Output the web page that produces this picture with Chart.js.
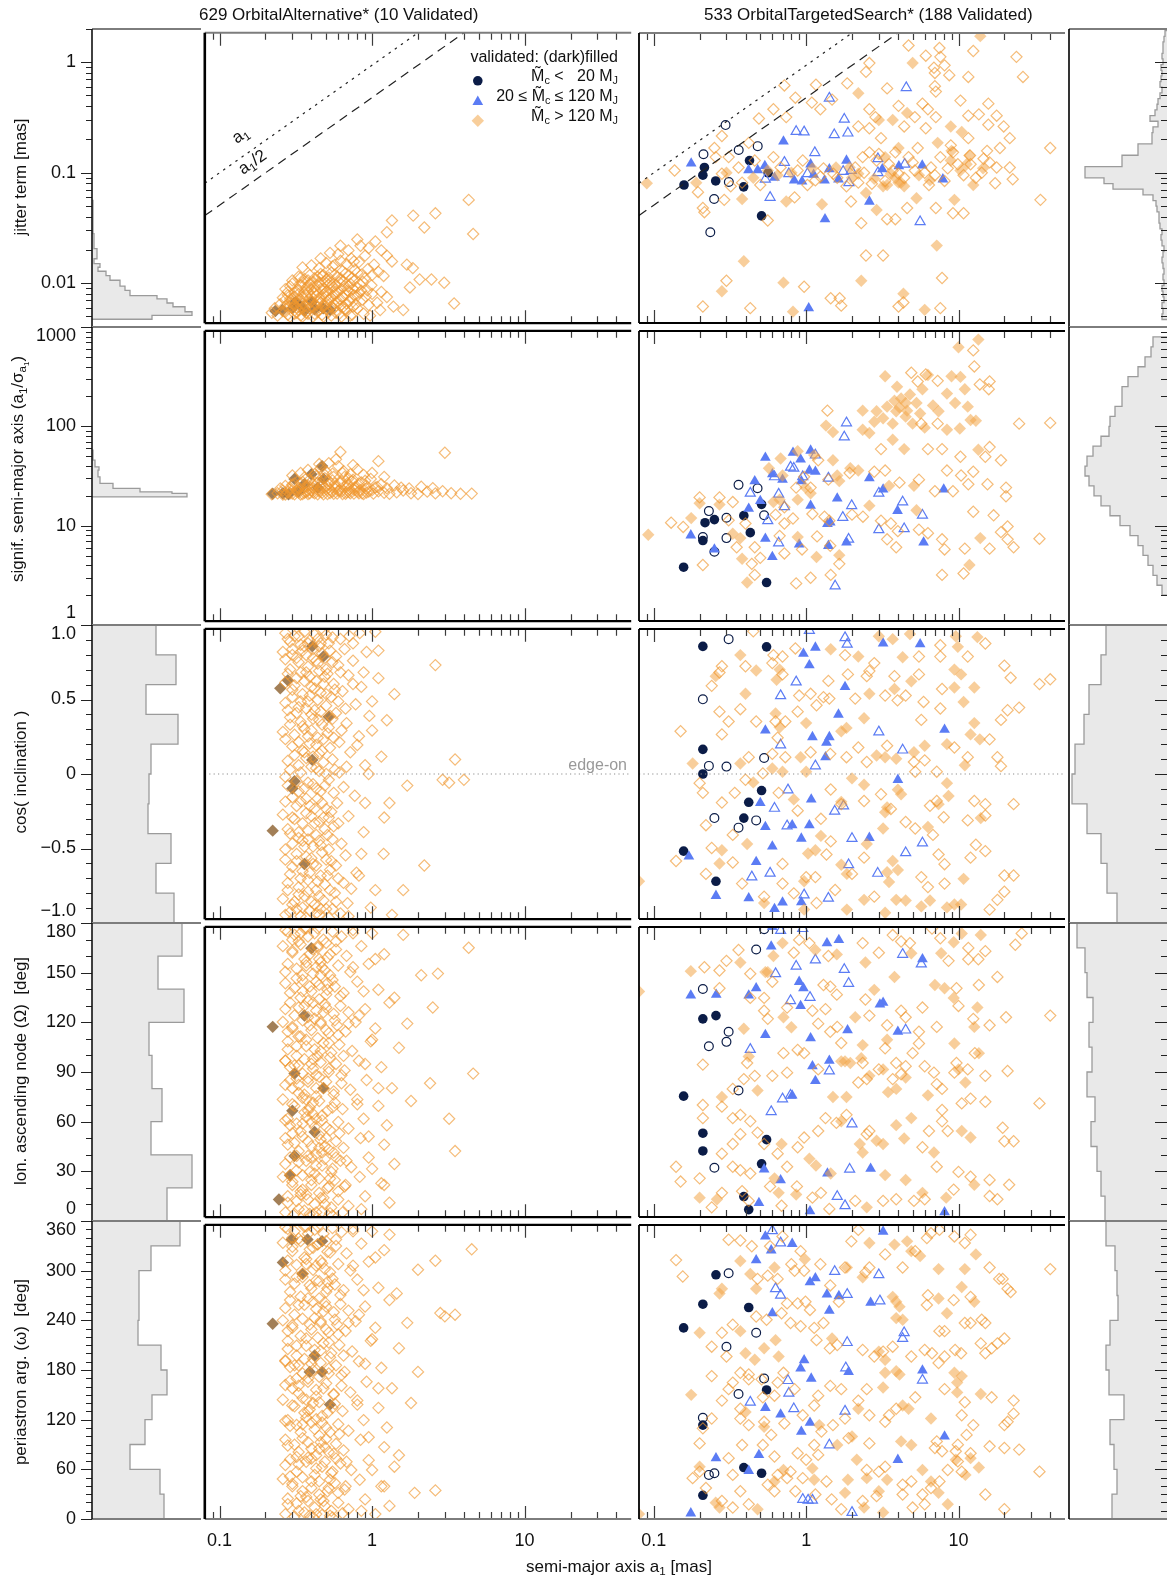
<!DOCTYPE html>
<html>
<head>
<meta charset="utf-8">
<script src="https://cdn.jsdelivr.net/npm/chart.js@4.4.1/dist/chart.umd.min.js"></script>
<style>
  body { margin: 0; background: #fff; }
  #fig { position: relative; width: 1167px; height: 1582px; overflow: hidden; background: #fff;
         font-family: "Liberation Sans", Arial, Helvetica, sans-serif; color: #111; }
  #fig canvas { position: absolute; }
  .t { position: absolute; white-space: nowrap; line-height: 1; }
  .t sub { font-size: 68%; vertical-align: -0.28em; }
</style>
</head>
<body>
<div id="fig"></div>
<script>
// ---------- axis ticks ----------
const xMajor       = [0.1, 1, 10];
const xMajorLabels = ['0.1', '1', '10'];
const jitTicks  = [0.01, 0.1, 1];        const jitLabels  = ['0.01', '0.1', '1'];
const sigTicks  = [1, 10, 100, 1000];    const sigLabels  = ['1', '10', '100', '1000'];
const cosTicks  = [-1, -0.5, 0, 0.5, 1]; const cosLabels  = ['\u22121.0', '\u22120.5', '0', '0.5', '1.0'];
const nodeTicks = [0, 30, 60, 90, 120, 150, 180];
const nodeLabels = ['0', '30', '60', '90', '120', '150', '180'];
const periTicks = [0, 60, 120, 180, 240, 300, 360];
const periLabels = ['0', '60', '120', '180', '240', '300', '360'];

// reference lines
const refLineX = [0.08, 50];   // jitter = a1 and a1/2
const edgeOnCos = 0;

// ---------- OrbitalAlternative (left column) ----------
const altJitOpen = [[4.3,0.056],[1.86,0.04],[2.6,0.042],[2.2,0.031],[4.6,0.027],[1.35,0.036],[1.25,0.028],[0.84,0.021],[0.62,0.021],[0.53,0.018],[0.76,0.015],[1.25,0.017],[1.35,0.015],[1.19,0.011],[1.03,0.014],[0.57,0.014],[0.47,0.011],[1.69,0.014],[1.85,0.013],[2.05,0.0102],[2.45,0.0102],[2.97,0.0095],[3.45,0.0061],[1.6,0.0053],[1.77,0.0086],[0.93,0.0081],[1.25,0.007],[1.38,0.0057],[1.13,0.0053],
 [0.22,0.005],[0.23,0.0055],[0.24,0.0047],[0.26,0.0052],[0.28,0.0048],[0.3,0.0055],[0.32,0.005],[0.34,0.0047],[0.36,0.0053],[0.38,0.0049],[0.41,0.0046],[0.44,0.0051],[0.47,0.0048],[0.5,0.0054],[0.54,0.0047],[0.58,0.005],[0.63,0.0046],[0.68,0.0052],[0.74,0.0048],[0.8,0.0055],[0.88,0.0049],[0.97,0.0047],
 [0.25,0.006],[0.27,0.0058],[0.29,0.0063],[0.31,0.0059],[0.33,0.0065],[0.35,0.0061],[0.37,0.0057],[0.4,0.0064],[0.43,0.0059],[0.46,0.0062],[0.49,0.0058],[0.52,0.0066],[0.56,0.006],[0.6,0.0063],[0.65,0.0057],[0.71,0.0064],[0.78,0.006],[0.86,0.0066],[0.95,0.0059],[1.08,0.0062],
 [0.26,0.0069],[0.28,0.0073],[0.3,0.0068],[0.33,0.0075],[0.35,0.007],[0.38,0.0078],[0.4,0.0071],[0.42,0.0076],[0.45,0.0069],[0.48,0.0074],[0.51,0.008],[0.55,0.0072],[0.59,0.0077],[0.64,0.007],[0.7,0.0079],[0.76,0.0073],[0.83,0.0077],[0.91,0.0071],[1.0,0.0075],[1.15,0.0078],
 [0.27,0.0083],[0.29,0.0088],[0.32,0.0082],[0.34,0.009],[0.37,0.0085],[0.39,0.0093],[0.42,0.0087],[0.45,0.0095],[0.48,0.0084],[0.52,0.0091],[0.56,0.0087],[0.61,0.0096],[0.66,0.0089],[0.72,0.0093],[0.79,0.0086],[0.87,0.0097],[0.99,0.009],
 [0.3,0.01],[0.33,0.0108],[0.36,0.0103],[0.39,0.0112],[0.42,0.0105],[0.46,0.0115],[0.5,0.0102],[0.54,0.0118],[0.59,0.0108],[0.64,0.0122],[0.7,0.0111],[0.77,0.0125],[0.85,0.0113],[0.94,0.0128],[1.1,0.012],
 [0.35,0.0132],[0.4,0.0138],[0.45,0.013],[0.5,0.0145],[0.55,0.0135],[0.62,0.0152],[0.68,0.0142],[0.73,0.016],[0.82,0.0148],[0.9,0.017],[0.46,0.016],[0.6,0.0175],[0.7,0.019],[0.95,0.02],[1.05,0.023],[0.8,0.024],[1.15,0.019]];
const altJitCore = [[0.27,0.0051],[0.29,0.0046],[0.31,0.0049],[0.33,0.0053],[0.35,0.0046],[0.37,0.005],[0.39,0.0055],[0.42,0.0049],[0.45,0.0053],[0.48,0.0046],[0.52,0.0051],[0.56,0.0055],[0.61,0.0049],[0.66,0.0054],[0.72,0.0047],
 [0.28,0.0057],[0.3,0.0061],[0.32,0.0056],[0.34,0.006],[0.36,0.0058],[0.39,0.0062],[0.41,0.0057],[0.44,0.0063],[0.47,0.0057],[0.5,0.0061],[0.54,0.0057],[0.58,0.0062],[0.62,0.0058],[0.68,0.0061],[0.75,0.0057],
 [0.27,0.0066],[0.29,0.0067],[0.31,0.0071],[0.34,0.0066],[0.37,0.0072],[0.39,0.0067],[0.43,0.0072],[0.46,0.0066],[0.5,0.0071],[0.53,0.0067],[0.57,0.0073],[0.62,0.0067],[0.67,0.0073],[0.73,0.0068],[0.8,0.0072],
 [0.28,0.0078],[0.31,0.0077],[0.33,0.0081],[0.36,0.0078],[0.4,0.0082],[0.43,0.008],[0.46,0.0083],[0.5,0.0078],[0.54,0.0083],[0.58,0.0079],[0.63,0.0083],[0.69,0.0081],[0.75,0.0083],[0.85,0.008],
 [0.3,0.0093],[0.35,0.0096],[0.38,0.0089],[0.41,0.0097],[0.44,0.009],[0.49,0.0097],[0.53,0.0094],[0.58,0.0091],[0.64,0.0098],[0.7,0.0088],[0.76,0.0099],[0.83,0.0092],
 [0.34,0.0106],[0.38,0.01],[0.44,0.0108],[0.48,0.0112],[0.52,0.0106],[0.57,0.0113],[0.62,0.0104],[0.67,0.0116],[0.74,0.0106],[0.8,0.0118],[0.9,0.0105],[1.0,0.0112]];
const altJitVal = [[0.232,0.0052],[0.258,0.0053],[0.314,0.0063],[0.3,0.0055],[0.36,0.0052],[0.403,0.0063],[0.42,0.0054],[0.478,0.0055],[0.53,0.0053],[0.34,0.0058]];

const altSigOpen = [[0.22,20.5],[0.24,21],[0.26,20.3],[0.28,21.5],[0.3,20.8],[0.32,22],[0.34,20.4],[0.36,21.2],[0.38,20.6],[0.4,22.5],[0.42,20.9],[0.45,21.8],[0.48,20.5],[0.5,23],[0.53,21.1],[0.56,20.7],[0.6,22.2],[0.64,20.6],[0.68,21.5],[0.72,20.9],[0.77,22.6],[0.82,21],[0.88,20.6],[0.95,21.8],[1.02,20.8],[1.1,22],[1.2,21.2],[1.3,20.7],[1.45,21.5],[1.6,22.4],[1.8,21],[2.0,20.6],[2.3,21.8],[2.6,20.9],[2.9,22],[3.3,21],[3.8,20.7],[4.5,20.8],
 [0.25,23.5],[0.27,25],[0.29,24],[0.31,26.5],[0.33,23.8],[0.35,27.5],[0.37,24.6],[0.39,29],[0.41,25.5],[0.44,27],[0.46,24.2],[0.49,30],[0.52,26],[0.55,28.5],[0.58,24.8],[0.62,26.8],[0.66,31],[0.7,25.4],[0.74,28],[0.79,24.5],[0.85,27.2],[0.91,25],[0.98,29.5],[1.05,24],[1.15,26],[1.25,23.6],[1.4,25.2],[1.55,24],[1.75,23.5],[2.1,24.5],[2.5,23.7],
 [0.3,32],[0.34,34],[0.38,36.5],[0.42,33],[0.46,38],[0.5,35],[0.55,33.5],[0.6,40],[0.65,35.5],[0.72,33],[0.8,37],[0.88,32.5],[0.52,43],[0.58,47],[0.62,56],[0.45,42],[0.75,41],[1.0,34],[1.2,31],[3.0,55],[1.1,45]];
const altSigCore = [[0.27,20.4],[0.29,21],[0.31,20.5],[0.33,21.3],[0.35,20.6],[0.37,21.6],[0.39,20.9],[0.41,21.4],[0.44,20.5],[0.47,21.3],[0.51,20.6],[0.55,21.7],[0.59,20.8],[0.63,21.9],[0.67,20.7],[0.71,21.6],[0.76,20.8],[0.81,21.7],[0.86,20.9],[0.92,21.3],
 [0.26,22.4],[0.29,23.1],[0.32,22.6],[0.35,23.4],[0.38,22.2],[0.41,23.8],[0.45,22.7],[0.49,24.1],[0.53,22.9],[0.57,23.6],[0.61,22.5],[0.66,24.3],[0.71,23.1],[0.77,24],[0.84,22.7],[0.92,23.5],[1.0,22.6],[1.08,24.4],
 [0.3,25.8],[0.34,26.6],[0.38,25.3],[0.42,27.5],[0.47,26.2],[0.52,28],[0.57,26.4],[0.63,27.8],[0.69,26.6],[0.75,29],[0.82,26.5],[0.9,28.2],[0.36,30.5],[0.43,31.5],[0.48,33.5],[0.56,31],[0.64,34],[0.7,29.8]];
const altSigVal = [[0.223,20.7],[0.26,21],[0.283,20.5],[0.31,29.5],[0.33,22],[0.36,26],[0.4,33],[0.47,40],[0.48,29.5],[0.44,24]];

const altCosOpen = [[0.27,0.97],[0.31,0.95],[0.36,0.98],[0.42,0.96],[0.48,0.99],[0.55,0.94],[0.29,0.91],[0.34,0.89],[0.39,0.92],[0.45,0.88],[0.52,0.9],[0.62,0.93],[0.71,0.95],[0.83,0.97],[1.05,0.98],
 [0.26,0.84],[0.3,0.82],[0.35,0.85],[0.41,0.8],[0.47,0.83],[0.58,0.81],[0.66,0.86],[0.92,0.84],[0.33,0.77],[0.38,0.74],[0.44,0.76],[0.5,0.72],[0.6,0.75],[0.75,0.78],[2.6,0.75],
 [0.28,0.69],[0.32,0.66],[0.37,0.7],[0.43,0.64],[0.49,0.67],[0.56,0.62],[0.7,0.68],[1.1,0.66],[0.3,0.58],[0.35,0.55],[0.4,0.6],[0.46,0.56],[0.54,0.53],[0.64,0.57],[0.85,0.6],[1.4,0.55],
 [0.27,0.49],[0.33,0.46],[0.38,0.5],[0.42,0.44],[0.5,0.47],[0.58,0.42],[0.78,0.48],[0.29,0.39],[0.34,0.36],[0.4,0.41],[0.47,0.34],[0.55,0.38],[0.68,0.35],[0.96,0.4],[1.25,0.37],
 [0.26,0.29],[0.31,0.27],[0.36,0.31],[0.44,0.25],[0.51,0.28],[0.61,0.22],[0.82,0.26],[0.3,0.19],[0.35,0.16],[0.39,0.21],[0.45,0.14],[0.53,0.18],[0.72,0.15],[1.15,0.12],[0.28,0.09],[0.33,0.06],[0.37,0.11],[0.43,0.04],[0.48,0.08],[0.57,0.03],[0.9,0.06],[1.7,-0.08],[2.9,-0.04],[3.5,0.1],[4.0,-0.04],[3.2,-0.06],
 [0.27,-0.02],[0.32,-0.05],[0.36,-0.1],[0.41,-0.07],[0.46,-0.12],[0.52,-0.04],[0.65,-0.09],[0.3,-0.16],[0.34,-0.19],[0.39,-0.22],[0.44,-0.17],[0.5,-0.24],[0.59,-0.2],[0.77,-0.15],[1.3,-0.2],
 [0.26,-0.28],[0.31,-0.31],[0.37,-0.27],[0.42,-0.34],[0.48,-0.3],[0.56,-0.36],[0.7,-0.29],[0.29,-0.41],[0.33,-0.44],[0.38,-0.39],[0.45,-0.46],[0.51,-0.42],[0.63,-0.48],[0.88,-0.4],[1.19,-0.55],
 [0.27,-0.52],[0.32,-0.55],[0.36,-0.5],[0.4,-0.58],[0.47,-0.54],[0.54,-0.6],[0.67,-0.56],[2.2,-0.63],[0.3,-0.64],[0.35,-0.67],[0.41,-0.62],[0.46,-0.7],[0.53,-0.66],[0.6,-0.72],[0.79,-0.68],[1.6,-0.8],
 [0.28,-0.75],[0.33,-0.78],[0.38,-0.73],[0.43,-0.8],[0.49,-0.76],[0.57,-0.82],[0.73,-0.79],[0.26,-0.86],[0.31,-0.88],[0.36,-0.84],[0.42,-0.9],[0.48,-0.87],[0.55,-0.93],[0.69,-0.89],[0.98,-0.92],
 [0.29,-0.95],[0.34,-0.98],[0.39,-0.94],[0.45,-0.97],[0.52,-0.99],[0.62,-0.96],[1.35,-0.97]];
const altCosCore = [[0.28,0.93],[0.33,0.95],[0.38,0.9],[0.44,0.93],[0.5,0.96],[0.3,0.86],[0.36,0.88],[0.41,0.86],[0.46,0.9],[0.53,0.85],
 [0.27,0.79],[0.32,0.8],[0.37,0.82],[0.43,0.78],[0.49,0.8],[0.55,0.77],[0.29,0.72],[0.34,0.7],[0.39,0.67],[0.45,0.71],
 [0.51,0.69],[0.62,0.7],[0.27,0.63],[0.31,0.61],[0.36,0.64],[0.42,0.59],[0.48,0.62],[0.57,0.58],[0.3,0.53],[0.34,0.5],
 [0.39,0.54],[0.44,0.51],[0.5,0.55],[0.6,0.5],[0.28,0.44],[0.32,0.42],[0.37,0.45],[0.41,0.38],[0.46,0.43],[0.53,0.4],
 [0.29,0.34],[0.35,0.33],[0.4,0.3],[0.45,0.37],[0.52,0.32],[0.63,0.3],[0.27,0.24],[0.33,0.22],[0.38,0.26],[0.43,0.2],
 [0.48,0.24],[0.56,0.25],[0.31,0.13],[0.36,0.15],[0.41,0.12],[0.47,0.16],[0.55,0.1],[0.29,0.03],[0.34,0.01],[0.4,0.05],
 [0.45,0.02],[0.5,0.0],[0.61,0.01],[0.28,-0.08],[0.33,-0.12],[0.38,-0.06],[0.43,-0.1],[0.49,-0.08],[0.56,-0.13],[0.27,-0.19],
 [0.32,-0.22],[0.37,-0.17],[0.42,-0.24],[0.47,-0.2],[0.54,-0.26],[0.3,-0.3],[0.35,-0.34],[0.4,-0.29],[0.45,-0.33],[0.52,-0.3],
 [0.6,-0.34],[0.28,-0.38],[0.33,-0.4],[0.38,-0.45],[0.43,-0.42],[0.49,-0.38],[0.55,-0.45],[0.3,-0.48],[0.35,-0.46],[0.41,-0.5],
 [0.46,-0.49],[0.52,-0.52],[0.27,-0.59],[0.32,-0.6],[0.37,-0.57],[0.43,-0.63],[0.5,-0.59],[0.58,-0.63],[0.29,-0.69],[0.34,-0.72],
 [0.39,-0.68],[0.44,-0.74],[0.51,-0.7],[0.28,-0.8],[0.33,-0.83],[0.38,-0.81],[0.45,-0.84],[0.53,-0.8],[0.3,-0.9],[0.35,-0.92],
 [0.4,-0.88],[0.46,-0.93],[0.58,-0.88],[0.27,-0.97],[0.32,-0.93],[0.37,-0.99],[0.43,-0.96],[0.5,-0.93],[0.65,-0.75],[0.67,0.45],
 [0.75,0.9],[0.88,0.7],[1.0,0.5],[0.8,0.2],[0.95,0.0],[1.2,-0.3],[0.85,-0.55],[1.05,-0.8],[0.7,-0.98],[1.1,0.85],[0.68,0.05],[0.9,-0.2],[0.75,0.62],[1.0,0.3],[0.82,-0.7]];
const altCosVal = [[0.405,0.88],[0.48,0.81],[0.28,0.645],[0.25,0.59],[0.52,0.395],[0.405,0.097],[0.31,-0.05],[0.3,-0.1],[0.223,-0.39],[0.36,-0.62]];

const altNodeOpen = [[0.27,178],[0.31,175],[0.36,179],[0.42,176],[0.48,172],[0.55,177],[0.63,174],[0.75,178],[1.0,176],[1.6,175],
 [0.26,168],[0.3,165],[0.34,169],[0.39,163],[0.44,167],[0.51,161],[0.58,166],[0.68,162],[0.85,168],[1.2,163],[4.3,167],
 [0.28,157],[0.32,154],[0.37,158],[0.41,151],[0.47,155],[0.53,150],[0.6,156],[0.72,152],[0.95,157],[2.1,150],[2.7,151],
 [0.27,145],[0.31,142],[0.35,147],[0.4,140],[0.45,144],[0.5,138],[0.57,143],[0.65,139],[0.8,146],[1.1,141],[1.4,136],
 [0.29,133],[0.33,130],[0.38,134],[0.43,128],[0.49,132],[0.56,126],[0.62,131],[0.7,127],[0.9,129],[1.3,133],[2.5,130],
 [0.26,121],[0.3,118],[0.35,122],[0.4,116],[0.46,120],[0.52,114],[0.59,119],[0.67,115],[0.78,121],[1.05,117],[1.7,120],
 [0.28,109],[0.32,106],[0.37,110],[0.42,104],[0.48,108],[0.54,102],[0.61,107],[0.74,103],[0.98,109],[1.5,105],
 [0.27,97],[0.31,94],[0.36,98],[0.41,92],[0.46,96],[0.52,90],[0.58,95],[0.66,91],[0.82,97],[1.15,93],[4.6,89],
 [0.29,85],[0.33,82],[0.38,86],[0.43,80],[0.5,84],[0.56,78],[0.63,83],[0.72,79],[0.92,85],[1.35,80],[2.4,83],
 [0.26,73],[0.3,70],[0.35,74],[0.39,68],[0.45,72],[0.51,66],[0.57,71],[0.64,67],[0.8,73],[1.1,69],[1.8,72],
 [0.28,61],[0.32,58],[0.37,62],[0.42,56],[0.47,60],[0.53,54],[0.6,59],[0.7,55],[0.88,61],[1.25,57],[3.2,61],
 [0.27,49],[0.31,46],[0.35,50],[0.4,44],[0.46,48],[0.52,42],[0.58,47],[0.65,43],[0.84,49],[1.2,45],
 [0.29,37],[0.33,34],[0.38,38],[0.43,32],[0.49,36],[0.55,30],[0.62,35],[0.73,31],[0.95,37],[1.4,33],[3.5,41],
 [0.26,25],[0.3,22],[0.35,26],[0.4,20],[0.45,24],[0.51,18],[0.57,23],[0.66,19],[0.83,25],[1.15,21],
 [0.28,13],[0.32,10],[0.37,14],[0.42,8],[0.48,12],[0.54,6],[0.6,11],[0.7,7],[0.9,13],[1.3,9],
 [0.27,3],[0.31,2],[0.36,4],[0.41,1.5],[0.47,3.5],[0.53,2.5],[0.64,3],
 [0.34,176],[0.45,160],[0.38,124],[0.33,112],[0.44,100],[0.36,76],[0.41,64],[0.3,52],[0.47,40],[0.34,16],[0.39,28],[0.43,88],[0.35,140],[0.46,150]];
const altNodeCore = [[0.28,177],[0.33,171],[0.38,174],[0.44,179],[0.5,170],[0.3,164],[0.36,160],[0.41,166],[0.46,158],[0.53,163],
 [0.27,152],[0.32,148],[0.37,156],[0.43,146],[0.49,153],[0.55,147],[0.29,139],[0.34,136],[0.39,143],[0.45,135],
 [0.51,141],[0.62,137],[0.27,129],[0.31,125],[0.36,131],[0.42,123],[0.48,127],[0.57,122],[0.3,117],[0.34,112],
 [0.39,119],[0.44,111],[0.5,116],[0.6,113],[0.28,104],[0.32,100],[0.37,106],[0.41,98],[0.46,103],[0.53,99],
 [0.29,93],[0.35,89],[0.4,95],[0.45,87],[0.52,92],[0.63,88],[0.27,82],[0.33,77],[0.38,84],[0.43,75],
 [0.48,80],[0.56,76],[0.31,69],[0.36,65],[0.41,71],[0.47,63],[0.55,68],[0.29,57],[0.34,53],[0.4,59],
 [0.45,51],[0.5,56],[0.61,52],[0.28,45],[0.33,41],[0.38,47],[0.43,39],[0.49,44],[0.56,40],[0.27,33],
 [0.32,29],[0.37,35],[0.42,27],[0.47,32],[0.54,28],[0.3,20],[0.35,17],[0.4,23],[0.45,15],[0.52,19],
 [0.6,16],[0.28,9],[0.33,5],[0.38,11],[0.43,3],[0.49,8],[0.55,1],[0.3,172],[0.35,150],[0.41,133],
 [0.46,121],[0.52,108],[0.27,97],[0.32,86],[0.37,73],[0.43,61],[0.5,49],[0.58,37],[0.29,26],[0.34,14],
 [0.39,2],[0.44,168],[0.51,145],[0.28,115],[0.33,94],[0.38,66],[0.45,43],[0.53,24],[0.3,80],[0.35,58],
 [0.4,37],[0.46,12],[0.58,171],[0.27,60],[0.32,38],[0.37,179],[0.43,155],[0.5,130],[0.65,100],[0.67,20],
 [0.75,176],[0.88,140],[1.0,110],[0.8,70],[0.95,50],[1.2,20],[0.85,5],[1.05,160],[0.7,120],[1.1,80],[0.68,35],[0.9,95],[0.75,155],[1.0,30],[0.82,125]];
const altNodeVal = [[0.4,166.7],[0.223,118],[0.48,80],[0.31,89],[0.3,66],[0.42,52.8],[0.31,38],[0.29,26],[0.245,11],[0.36,125]];

const altPeriOpen = [[0.27,357],[0.31,352],[0.36,358],[0.42,354],[0.48,349],[0.55,356],[0.63,351],[0.75,355],[1.0,352],[1.3,348],
 [0.26,338],[0.3,333],[0.34,340],[0.39,330],[0.44,336],[0.51,327],[0.58,334],[0.68,325],[0.85,337],[1.2,329],[4.5,330],
 [0.28,316],[0.32,311],[0.37,318],[0.41,305],[0.47,313],[0.53,302],[0.6,312],[0.72,304],[0.95,315],[2.0,305],[2.6,316],
 [0.27,293],[0.31,288],[0.35,296],[0.4,282],[0.45,291],[0.5,278],[0.57,287],[0.65,280],[0.8,293],[1.1,283],[1.45,276],
 [0.29,268],[0.33,262],[0.38,270],[0.43,257],[0.49,265],[0.56,253],[0.62,263],[0.7,255],[0.9,260],[1.3,268],[3.5,250],[3.0,248],[2.8,252],
 [0.26,243],[0.3,237],[0.35,245],[0.4,232],[0.46,240],[0.52,228],[0.59,238],[0.67,230],[0.78,242],[1.05,234],[1.7,240],
 [0.28,218],[0.32,212],[0.37,221],[0.42,207],[0.48,215],[0.54,203],[0.61,213],[0.74,205],[0.98,218],[1.5,209],
 [0.27,193],[0.31,188],[0.36,196],[0.41,182],[0.46,191],[0.52,178],[0.58,188],[0.66,180],[0.82,193],[1.15,185],[2.0,180],
 [0.29,169],[0.33,163],[0.38,172],[0.43,158],[0.5,166],[0.56,153],[0.63,163],[0.72,155],[0.92,168],[1.35,160],
 [0.26,146],[0.3,139],[0.35,148],[0.39,134],[0.45,143],[0.51,130],[0.57,141],[0.64,132],[0.8,145],[1.1,136],[1.8,142],
 [0.28,121],[0.32,115],[0.37,124],[0.42,110],[0.47,118],[0.53,106],[0.6,116],[0.7,108],[0.88,121],[1.25,112],
 [0.27,97],[0.31,91],[0.35,99],[0.4,86],[0.46,94],[0.52,82],[0.58,92],[0.65,84],[0.84,97],[1.2,88],[1.5,78],
 [0.29,73],[0.33,67],[0.38,75],[0.43,62],[0.49,70],[0.55,58],[0.62,68],[0.73,60],[0.95,72],[1.4,64],
 [0.26,49],[0.3,43],[0.35,51],[0.4,38],[0.45,46],[0.51,34],[0.57,44],[0.66,36],[0.83,48],[1.15,40],[1.9,32],[2.6,35],
 [0.28,25],[0.32,19],[0.37,27],[0.42,14],[0.48,22],[0.54,10],[0.6,20],[0.7,12],[0.9,24],[1.3,16],
 [0.27,6],[0.31,3],[0.36,8],[0.41,2],[0.47,5],[0.53,4],[0.64,7],[1.05,6]];
const altPeriCore = [[0.28,355],[0.33,343],[0.38,349],[0.44,358],[0.5,340],[0.3,328],[0.36,320],[0.41,332],[0.46,316],[0.53,326],
 [0.27,304],[0.32,296],[0.37,312],[0.43,292],[0.49,306],[0.55,294],[0.29,278],[0.34,272],[0.39,286],[0.45,270],
 [0.51,282],[0.62,274],[0.27,258],[0.31,250],[0.36,262],[0.42,246],[0.48,254],[0.57,244],[0.3,234],[0.34,224],
 [0.39,238],[0.44,222],[0.5,232],[0.6,226],[0.28,208],[0.32,200],[0.37,212],[0.41,196],[0.46,206],[0.53,198],
 [0.29,186],[0.35,178],[0.4,190],[0.45,174],[0.52,184],[0.63,176],[0.27,164],[0.33,154],[0.38,168],[0.43,150],
 [0.48,160],[0.56,152],[0.31,138],[0.36,130],[0.41,142],[0.47,126],[0.55,136],[0.29,114],[0.34,106],[0.4,118],
 [0.45,102],[0.5,112],[0.61,104],[0.28,90],[0.33,82],[0.38,94],[0.43,78],[0.49,88],[0.56,80],[0.27,66],
 [0.32,58],[0.37,70],[0.42,54],[0.47,64],[0.54,56],[0.3,40],[0.35,34],[0.4,46],[0.45,30],[0.52,38],
 [0.6,32],[0.28,18],[0.33,10],[0.38,22],[0.43,6],[0.49,16],[0.55,2],[0.3,344],[0.35,300],[0.41,266],
 [0.46,242],[0.52,216],[0.27,194],[0.32,172],[0.37,146],[0.43,122],[0.5,98],[0.58,74],[0.29,52],[0.34,28],
 [0.39,4],[0.44,336],[0.51,290],[0.28,230],[0.33,188],[0.38,132],[0.45,86],[0.53,48],[0.3,160],[0.35,116],
 [0.4,74],[0.46,24],[0.58,342],[0.27,120],[0.32,76],[0.37,358],[0.43,310],[0.5,260],[0.65,200],[0.67,40],
 [0.75,352],[0.88,280],[1.0,220],[0.8,140],[0.95,100],[1.2,40],[0.85,10],[1.05,320],[0.7,240],[1.1,160],[0.68,70],[0.9,190],[0.75,310],[1.0,60],[0.82,250]];
const altPeriVal = [[0.297,342],[0.377,342],[0.47,340],[0.26,314],[0.223,239],[0.39,180],[0.47,180],[0.53,140],[0.35,300],[0.42,200]];

// ---------- OrbitalTargetedSearch (right column) ----------
const tsJitOpen = [[4.7,1.53],[7.5,1.45],[6.1,1.23],[7.6,1.2],[12.5,1.36],[24,1.2],[2.6,1.05],[2.47,0.87],[6.9,0.95],[8.1,1.0],[7.0,0.85],[8.7,0.81],[11.6,0.78],[26.5,0.78],[1.86,0.68],[3.4,0.61],[7.0,0.64],[7.1,0.57],[1.16,0.66],[10.3,0.47],[15.7,0.44],[1.48,0.48],[1.09,0.45],[1.24,0.39],[2.6,0.39],[5.8,0.44],[6.3,0.39],[4.04,0.42],[5.17,0.33],[7.1,0.33],[11.6,0.34],[17.8,0.34],[13.6,0.35],[2.85,0.33],[2.2,0.27],[2.6,0.26],[3.1,0.21],[4.4,0.27],[6.1,0.26],[15.7,0.28],[19.8,0.27],[21.7,0.21],[11.6,0.21],[18.7,0.17],[40,0.17],[8.9,0.18],[15.4,0.16],[22.7,0.087],[17.4,0.08],[34.5,0.056],[10.8,0.042],[9.2,0.042],[7.1,0.047],[4.6,0.047],[3.85,0.037],[3.4,0.037],[1.97,0.054],[2.3,0.034],[2.47,0.017],[3.2,0.017],[7.8,0.0105],[0.97,0.0087],[1.45,0.0068],[1.66,0.0068],[1.7,0.0058],[4.04,0.0057],[4.35,0.0062],[7.6,0.0055],
 [2.35,0.14],[3.0,0.15],[4.7,0.14],[5.4,0.17],[7.6,0.14],[9.2,0.155],[11.9,0.145],[14.6,0.135],[17.8,0.112],[21.7,0.112],[14.2,0.1],[9.9,0.12],[6.6,0.112],[5.17,0.105],[4.04,0.098],[3.3,0.084],[2.7,0.079],[2.2,0.081],[1.84,0.075],[1.51,0.098],[1.24,0.092],[1.02,0.077],[6.4,0.077],[8.1,0.084],[10.8,0.095],[3.85,0.155],[2.1,0.112],[2.6,0.155],
 [0.72,0.65],[0.85,0.5],[0.61,0.39],[0.49,0.32],[0.74,0.33],[0.28,0.22],[0.42,0.19],[0.25,0.17],[0.137,0.105],[0.195,0.066],[0.29,0.056],[0.21,0.047],[0.215,0.043],[0.56,0.036],[0.3,0.0099],[0.43,0.0055],[0.21,0.0057],[0.84,0.059],[0.28,0.098],[0.31,0.14],[0.36,0.112],[0.46,0.13],[0.61,0.14],[0.68,0.112],[0.88,0.105],[0.5,0.077],[0.32,0.075],[0.255,0.14],[0.38,0.081],
 [1.3,0.11],[1.6,0.09],[2.4,0.1],[3.5,0.12],[4.4,0.09],[5.0,0.125],[6.0,0.1],[7.0,0.095],[8.5,0.11],[12,0.12],[13,0.09],[16,0.125],[2.9,0.13],[0.95,0.13],[1.15,0.085],[3.7,0.105]];
const tsJitFill = [[13.9,1.87],[5.0,1.05],[2.2,0.55],[3.7,0.31],[8.9,0.27],[10.5,0.24],[7.3,0.19],[10.3,0.105],[12.5,0.077],[9.4,0.056],[5.3,0.058],[2.9,0.045],[1.27,0.051],[2.3,0.0099],[7.2,0.021],[4.35,0.0075],[6.0,0.0053],[4.04,0.17],[3.6,0.098],[3.2,0.075],[4.04,0.081],[2.47,0.065],[2.2,0.098],[8.9,0.13],[11.3,0.12],[1.57,0.112],[1.93,0.112],[3.85,0.09],[4.2,0.081],[3.4,0.077],[4.4,0.075],[0.09,0.08],[0.38,0.057],[0.74,0.054],[0.39,0.015],[0.71,0.0095],[0.28,0.0079],[0.82,0.0051],[0.19,0.081],[0.56,0.105],[0.65,0.095],[0.8,0.1],[0.45,0.09],[2.8,0.088],[5.5,0.095],[6.5,0.085],[14.5,0.11],[11.8,0.145],[3.0,0.31],[4.6,0.36],[3.3,0.14],[9.0,0.16],[1.1,0.11],[0.3,0.1],[2.0,0.09]];
const tsJitLoFill  = [[0.158,0.077],[0.215,0.112],[0.21,0.095],[0.255,0.084],[0.389,0.074],[0.425,0.13],[0.563,0.1],[0.51,0.0397]];
const tsJitLoOpen  = [[0.296,0.278],[0.212,0.149],[0.361,0.163],[0.481,0.177],[0.311,0.082],[0.249,0.057],[0.235,0.028]];
const tsJitMidFill = [[0.176,0.122],[0.71,0.196],[0.536,0.116],[0.419,0.106],[0.481,0.106],[0.62,0.09],[0.835,0.085],[1.07,0.12],[1.12,0.096],[1.42,0.108],[1.32,0.085],[1.63,0.087],[1.84,0.13],[2.6,0.054],[1.33,0.037],[4.06,0.115],[3.16,0.108],[5.78,0.117],[7.9,0.087],[1.04,0.0055],[0.94,0.083]];
const tsJitMidOpen = [[0.86,0.242],[0.58,0.059],[0.72,0.125],[0.77,0.098],[0.54,0.087],[1.42,0.495],[1.78,0.315],[1.88,0.234],[1.53,0.226],[0.97,0.24],[1.14,0.154],[1.75,0.103],[1.98,0.105],[1.91,0.081],[1.02,0.098],[2.96,0.135],[2.96,0.1],[4.44,0.12],[4.54,0.62],[5.6,0.035]];

const tsSigOpen = [[4.9,370],[6.1,355],[7.3,305],[12.5,630],[12.7,430],[16,300],[15.8,250],[13.8,280],[25,110],[40,112],[1.38,150],[5.4,300],[5.7,110],[7.3,110],[6.3,60],[7.8,60],[10.3,50],[16,63],[19,46],[15,50],[12.5,35],[15.5,26],[20.5,24],[20.5,19.5],[11.6,26],[9.2,22],[7,22],[5.5,29],[4.1,27],[3.3,36],[3.1,60],[2.8,35],[1.93,34],[1.4,29],[1.2,46],[1.07,24],[0.97,31],[0.86,24],[0.72,15],[0.82,11.5],[1.1,12.8],[1.42,10.9],[1.32,12],[2.0,12.6],[2.36,12],[3.1,10.9],[3.6,10.2],[4.0,8.5],[3.4,7.0],[3.9,5.8],[5.5,8.8],[6.3,8.1],[7.8,7.0],[8.1,5.5],[11,5.6],[12.5,13.5],[17,12.4],[21,9.5],[21,7.0],[23,5.8],[16,5.6],[34,7.1],[10.8,3.1],[7.8,3.0],[1.07,2.8],[0.86,2.45],[0.46,3.0],[0.21,3.8],[0.13,10.4],[0.156,9.4],[0.2,19],[0.27,19],[0.33,17],[0.31,11],[0.4,10.2],[0.35,5.8],[0.46,5.8],[0.5,4.5],[0.72,5.0],[0.94,5.5],[1.18,7.5],[1.44,6],[0.67,7.6],[0.63,12.6],[0.72,10.2],[0.44,3.9],[1.65,3.9],[1.45,3.0],[8.4,36],[10.4,32],[19,8.3]];
const tsSigFill = [[0.092,7.8],[0.176,11.6],[0.41,2.5],[0.38,4.4],[13.5,815],[10,680],[3.3,340],[6.3,350],[9.0,340],[10.3,335],[11,250],[3.95,265],[5.8,250],[8.4,225],[3.4,165],[4.1,162],[4.5,180],[3.9,148],[4.6,150],[2.35,150],[2.9,148],[3.7,110],[5.0,110],[6.0,100],[8.4,95],[10.2,98],[12,120],[13,118],[7.4,148],[1.35,105],[1.5,90],[2.35,95],[2.6,88],[4.4,60],[3.7,75],[13.5,59],[1.95,38],[1.5,46],[2.2,36],[1.13,52],[0.88,57],[0.68,48],[0.57,38],[0.7,32],[0.99,24],[1.07,21],[0.88,18],[0.67,18],[0.61,17],[1.6,32],[1.65,28],[3.5,25],[5.1,25],[2.6,15.6],[5.3,14],[13.9,7.2],[11.8,3.8],[1.65,4.8],[1.17,4.6],[0.27,16],[0.2,16.5],[0.37,7.2],[0.88,7.4],[0.33,8.0],[4.2,200],[4.8,220],[3.8,190],[5.3,180],[4.5,130],[3.2,125],[5.6,140],[6.8,170],[9.5,180],[11.5,165],[2.8,115]];
const tsSigLoFill  = [[0.157,3.6],[0.217,10.4],[0.25,11.2],[0.21,6.8],[0.39,12.3],[0.43,8.2],[0.51,16.1],[0.55,2.5]];
const tsSigLoOpen  = [[0.36,25.6],[0.48,23.6],[0.23,13.7],[0.3,11.7],[0.21,7.4],[0.3,7.2],[0.25,5.2],[0.53,12.4]];
const tsSigMidFill = [[0.175,7.7],[0.54,49],[0.82,55],[0.92,47],[1.07,58],[0.6,33],[0.7,29],[0.93,28],[1.05,36],[1.15,35],[0.46,28],[0.42,14.5],[0.5,17.5],[1.07,15.6],[1.6,18.5],[2.6,30],[3.2,23],[1.44,10.5],[1.38,10.1],[0.54,7.1],[0.6,4.6],[0.9,6.2],[1.4,6.0],[1.84,6.5],[3.98,13.8],[5.9,6.5],[8.0,23],[0.25,5.5]];
const tsSigMidOpen = [[1.84,112],[1.78,80],[1.15,52],[0.79,39],[0.83,38],[0.95,31],[0.62,31],[1.4,30],[0.66,20.5],[0.72,15.2],[0.43,21],[0.56,10.9],[1.74,11.8],[1.99,15.6],[3.0,21],[4.3,17],[5.8,12.4],[4.4,9.0],[3.0,8.8],[1.9,7.0],[0.66,6.4],[1.55,2.3]];

const tsCosOpen = [[0.45,0.984],[0.85,0.866],[0.7,0.81],[0.61,0.82],[0.7,0.687],[0.6,0.765],[0.28,0.743],[0.4,0.743],[0.27,0.7],[0.24,0.608],[0.27,0.43],[0.31,0.362],[0.37,0.447],[0.28,0.273],[0.15,0.295],[0.47,0.362],[0.63,0.362],[0.65,0.25],[0.73,0.362],[0.88,0.43],[0.9,0.541],[1.07,0.553],[1.17,0.474],[1.3,0.53],[1.4,0.642],[1.42,0.52],[1.88,0.687],[2.1,0.52],[1.8,0.82],[2.5,0.675],[2.6,0.71],[2.8,0.765],[3.8,0.675],[3.3,0.541],[3.98,0.508],[4.5,0.541],[5.5,0.81],[5.5,0.687],[5.9,0.497],[5.7,0.373],[7.6,0.452],[7.8,0.586],[7.6,0.81],[7.6,0.888],[11.5,0.81],[15,0.9],[20,0.747],[22,0.664],[34,0.62],[40,0.653],[21,0.44],[25,0.458],[19,0.373],[16,0.239],[18,0.116],[19,0.054],[11.5,0.116],[9.4,0.183],[6.0,0.094],[7.2,0.016],[5.2,0.016],[5.1,0.083],[3.4,0.195],[2.2,0.183],[2.5,0.083],[1.84,0.116],[1.44,0.139],[1.07,0.15],[0.73,0.116],[0.6,0.139],[0.42,0.116],[0.52,0.004],[0.4,-0.04],[0.34,-0.13],[0.28,-0.197],[0.21,-0.13],[0.2,-0.063],[0.22,-0.353],[0.33,-0.42],[0.24,-0.51],[0.14,-0.6],[0.22,-0.689],[0.33,-0.61],[0.38,-0.756],[0.53,-0.846],[0.7,-0.756],[0.7,-0.62],[1.0,-0.711],[1.15,-0.711],[1.36,-0.555],[1.45,-0.465],[2.0,-0.689],[2.4,-0.577],[2.8,-0.846],[1.55,-0.8],[1.17,-0.89],[0.83,-0.823],[0.66,-0.13],[0.88,-0.253],[1.25,-0.309],[1.45,-0.107],[1.7,-0.208],[2.4,-0.186],[3.1,-0.14],[3.6,-0.241],[4.5,-0.331],[5.2,-0.376],[6.5,-0.219],[7.2,-0.186],[8.0,-0.298],[6.8,-0.42],[7.4,-0.555],[8.1,-0.622],[5.7,-0.711],[6.3,-0.78],[8.1,-0.756],[12.7,-0.186],[15,-0.208],[23,-0.208],[15,-0.286],[11.5,-0.32],[13,-0.488],[15,-0.532],[12,-0.577],[20,-0.7],[23,-0.7],[18,-0.868],[20,-0.812],[16,-0.935]];
const tsCosFill = [[0.08,-0.74],[0.37,0.82],[0.47,0.714],[0.255,0.675],[0.4,0.553],[0.64,0.65],[0.67,0.72],[1.45,0.86],[2.2,0.81],[3.0,0.95],[3.7,0.93],[4.3,0.805],[4.8,0.966],[4.9,0.64],[3.8,0.586],[2.6,0.553],[2.4,0.385],[1.84,0.318],[1.7,0.295],[1.0,0.351],[0.67,0.322],[0.63,0.418],[0.92,0.116],[1.0,0.016],[0.7,0.016],[0.6,0.038],[0.45,-0.058],[0.37,0.072],[0.18,0.072],[2.0,-0.03],[2.4,-0.074],[2.9,0.128],[3.3,0.116],[3.9,0.105],[5.1,0.15],[6.0,0.195],[9.4,0.72],[10.4,0.687],[9.9,0.877],[9.6,0.95],[13.3,0.944],[9.4,0.597],[12.7,0.597],[10.8,0.497],[12,0.273],[13.8,0.239],[12.7,0.351],[8.4,0.206],[11,0.06],[8.4,-0.063],[8.6,-0.152],[7.4,-0.208],[4.0,-0.108],[4.2,-0.14],[3.3,-0.264],[3.4,-0.23],[0.83,-0.175],[1.7,-0.192],[1.25,-0.427],[3.2,-0.376],[2.5,-0.483],[6.3,-0.365],[14,-0.304],[1.15,-0.526],[1.03,-0.548],[0.28,-0.526],[0.41,-0.483],[0.27,-0.617],[1.7,-0.626],[3.7,-0.6],[3.4,-0.678],[4.0,-0.662],[3.5,-0.745],[1.85,-0.689],[0.97,-0.74],[10.8,-0.723],[2.4,-0.868],[3.9,-0.868],[4.5,-0.872],[6.5,-0.872],[9.4,-0.9],[10.4,-0.9],[5.7,-0.913],[3.3,-0.957],[1.85,-0.935],[0.97,-0.935],[0.53,-0.89],[8.4,-0.92]];
const tsCosLoFill  = [[0.21,0.88],[0.55,0.877],[0.21,0.17],[0.21,0.0],[0.51,-0.114],[0.42,-0.195],[0.39,-0.304],[0.157,-0.532],[0.256,-0.74]];
const tsCosLoOpen  = [[0.31,0.93],[0.21,0.515],[0.23,0.056],[0.3,0.051],[0.53,0.11],[0.25,-0.304],[0.36,-0.37],[0.47,-0.32]];
const tsCosMidFill = [[1.15,0.872],[0.96,0.83],[1.05,0.75],[3.2,0.9],[5.6,0.895],[1.8,0.6],[1.63,0.41],[0.54,0.3],[1.1,0.255],[1.42,0.255],[1.36,0.217],[1.34,0.116],[8.1,0.306],[4.0,-0.04],[1.08,-0.175],[0.5,-0.2],[0.54,-0.365],[0.81,-0.353],[1.05,-0.353],[0.93,-0.445],[0.6,-0.5],[2.6,-0.44],[0.47,-0.606],[0.17,-0.568],[0.256,-0.84],[0.42,-0.857],[0.7,-0.886],[0.93,-0.884],[0.62,-0.93]];
const tsCosMidOpen = [[1.05,0.99],[1.8,0.94],[1.86,0.895],[0.86,0.635],[0.68,0.54],[0.68,0.2],[1.15,0.056],[3.0,0.29],[4.3,0.165],[0.76,-0.11],[0.62,-0.237],[1.54,-0.257],[1.76,-0.22],[0.75,-0.358],[2.0,-0.445],[5.8,-0.476],[4.5,-0.543],[1.9,-0.626],[2.95,-0.685],[0.44,-0.71],[0.58,-0.684],[0.97,-0.834],[1.4,-0.857]];

const tsNodeOpen = [[0.36,165.7],[0.215,155],[0.27,153],[0.43,151],[0.6,146],[0.53,136],[0.75,130],[0.83,164],[0.9,172],[1.05,170],[1.4,162],[2.35,170],[3.0,164],[3.7,175],[4.2,171],[4.8,170],[6.7,179],[7.6,173],[8.6,159],[11.6,167],[13.5,160],[15,165],[26,176],[23.6,169],[18,149],[13.6,144],[11.6,160],[9.7,142],[10,131],[12.5,123],[16,119],[20.5,124],[40,125],[7.2,118],[5.5,115],[5.8,130],[4.2,128],[4.5,124],[3.4,119],[3.3,104.7],[2.6,125],[2.45,135],[1.59,138],[1.44,143],[1.3,144],[1.1,128],[1.2,120],[1.34,129],[1.44,115],[1.6,118],[1.7,108],[2.35,95.6],[2.2,83.5],[2.5,85.6],[3.0,91.6],[3.9,95.6],[4.5,93.6],[4.2,88.6],[6.0,93.6],[6.9,89.6],[7.2,82.5],[7.8,79.5],[9.7,95.6],[9.4,89.6],[11.5,91.6],[12,73.5],[15,71.5],[10.5,70.5],[7.8,66.4],[7.8,59.4],[8.5,53.4],[6.4,53.4],[5.8,43.3],[7.2,31.2],[10,28],[12,25],[16,23],[21.5,20],[19.5,55.4],[20,47],[23,47],[34,70.5],[21,90.6],[15,87.6],[12.8,101.7],[5.5,107.7],[5.0,101.7],[3.7,85.6],[2.6,53.4],[2.5,51.4],[1.84,63.4],[1.58,58.4],[1.34,61.4],[1.2,53.4],[0.97,49.3],[0.88,43.3],[0.75,31.2],[0.65,39.3],[0.53,45.3],[0.43,59.4],[0.37,63.4],[0.33,61.4],[0.28,68.5],[0.21,69.5],[0.21,61.4],[0.37,51.4],[0.48,52.4],[0.33,45.3],[0.28,39.3],[0.33,31.2],[0.37,29],[0.43,27],[0.2,24],[0.15,22],[0.14,31.2],[0.24,6],[0.28,15],[0.38,16],[0.42,10],[0.58,19],[0.69,7],[0.87,19],[1.1,12],[1.25,15],[1.42,5],[2.1,10],[3.2,10],[3.9,11],[5.1,10],[6.0,11],[9.3,17],[16,13],[18,11],[0.21,94.6],[0.3,159],[0.27,142],[0.43,136],[0.53,128],[0.56,123],[0.71,101.7],[0.88,103.7],[0.97,101.7],[1.2,91.6],[0.75,89.6],[0.6,87.6],[0.46,87.6],[0.39,85.6],[0.33,79.5],[0.41,95.6]];
const tsNodeFill = [[0.08,140],[0.175,152.6],[0.37,158],[0.54,152],[0.61,162],[0.7,170],[1.15,165.7],[1.59,163],[2.45,158],[2.8,141],[3.8,149],[4.9,163.7],[7.7,163.7],[9.3,170.5],[14,175],[10.5,176],[7.0,144],[8.1,142],[9.3,136],[13.3,130],[12.7,118],[9.4,107.7],[13.6,101.7],[10,91.6],[11.1,83.5],[6.3,75.5],[4.5,86.6],[3.4,110],[2.35,106.7],[1.7,96.6],[1.95,95.6],[2.6,87.6],[1.84,74.5],[3.45,77.5],[3.9,79.5],[4.9,61.4],[3.9,57],[4.4,48.7],[10.5,53.4],[12,49.3],[6.9,40],[3.2,45.3],[2.9,47.3],[2.35,40],[2.25,45.3],[1.16,32],[1.05,36.2],[0.69,45.3],[0.62,24],[0.66,15],[0.86,14],[1.45,27],[2.5,6],[3.3,26],[4.5,23],[5.8,15],[8.3,12],[12.7,20],[0.2,12],[0.28,74.5],[0.48,78.5],[0.39,116.8],[0.42,99.6],[0.26,11],[0.71,124],[0.8,117.8],[0.56,152],[1.8,96.6],[2.3,98.6],[3.2,91.6],[2.1,124],[1.5,74.5],[1.7,59.4]];
const tsNodeLoFill  = [[0.21,123],[0.256,125],[0.157,75],[0.21,52],[0.21,41],[0.55,48],[0.51,33],[0.39,12.7],[0.42,4.6]];
const tsNodeLoOpen  = [[0.53,178.6],[0.47,166],[0.21,141.5],[0.31,115],[0.3,108.7],[0.23,106],[0.36,78.5],[0.25,30.6]];
const tsNodeMidFill = [[0.6,180],[0.59,168],[1.37,170],[1.64,172],[0.47,142],[0.42,137.5],[0.257,138],[0.175,137.5],[0.9,146],[0.96,142],[0.92,131],[0.54,113],[1.07,111],[1.87,116],[4.0,115],[5.8,160],[3.2,133],[3.05,132],[1.42,97],[1.1,93.6],[1.15,84.5],[0.81,75.5],[0.53,29.6],[0.68,22.8],[1.38,27],[2.65,30],[0.49,8.7],[1.06,3.6],[8.1,3]];
const tsNodeMidOpen = [[0.68,177.8],[0.95,179],[1.15,159.5],[0.86,155.6],[0.63,151],[1.78,153.6],[1.9,145],[0.79,134.3],[1.06,136.3],[4.3,163],[5.7,157],[4.5,116],[0.43,104],[1.42,90.6],[0.79,75.5],[0.7,73.3],[0.59,65.4],[2.0,57.8],[1.93,29.6],[1.6,12.7],[1.8,7]];

const tsPeriOpen = [[0.14,317],[0.155,297],[0.31,342],[0.37,341],[0.44,334],[0.58,334],[0.7,346],[0.92,328],[0.8,312],[0.48,294],[0.56,298],[0.65,294],[0.84,304],[0.97,304],[1.24,312],[1.44,286],[1.64,266],[1.8,308],[1.98,340],[2.2,354],[2.45,302],[2.6,308],[3.3,324],[4.3,308],[5.2,328],[6.2,344],[6.6,350],[7.5,354],[9.4,346],[11,338],[12,348],[16,308],[18.5,294],[19.5,294],[21,282],[22,278],[40,306],[12,272],[14.2,244],[15,240],[12,240],[11,240],[7.5,230],[6.3,274],[6.2,262],[9.3,268],[8.1,230],[9.5,207],[10.4,203],[14,215],[15,203],[20,221],[18,215],[16.5,209],[34,58],[25,85],[23,129],[21,119],[20,115],[23,145],[16.5,149],[11,143],[10.5,127],[12.5,115],[11.3,103],[9.9,91],[9.6,83],[9.9,70.5],[10.5,58],[12,80.5],[16,89],[15,30],[20,12],[7.2,95],[7.0,87],[7.8,83],[8.5,60],[7.5,46],[6.6,38],[5.8,30],[4.9,46],[4.3,42],[3.3,64],[3.0,58],[2.6,92.6],[2.5,60],[1.9,99],[1.8,123],[1.5,115],[1.26,107],[1.13,90.6],[1.2,78.5],[1.0,72.5],[0.88,80.5],[0.79,58],[0.75,50],[0.65,54],[0.62,34],[0.56,42],[0.85,34],[0.95,50],[1.36,46],[1.15,30],[1.47,24],[1.7,12],[2.35,22],[2.9,28],[4.3,30],[5.0,14],[6.0,18],[20,87],[0.62,76.5],[0.52,90.6],[0.38,90.6],[0.31,74.5],[0.33,54],[0.37,34],[0.42,18],[0.33,14],[0.28,22],[0.22,38],[0.18,50],[0.2,58],[0.21,111],[0.24,123],[0.2,92.6],[0.28,145],[0.37,123],[0.42,115],[0.33,167],[0.37,179],[0.42,171],[0.3,199],[0.24,211],[0.28,228],[0.33,238],[0.47,248],[0.55,244],[0.69,252],[0.75,264],[0.88,264],[0.99,266],[1.06,256],[0.79,240],[0.92,236],[1.13,234],[1.3,240],[1.17,219],[1.43,209],[1.6,213],[2.35,207],[2.8,199],[3.2,205],[3.7,211],[4.9,199],[6.0,207],[6.7,203],[7.4,191],[8.1,199],[8.1,159],[5.2,149],[3.9,135],[3.5,127],[3.3,119],[2.6,127],[2.2,145],[2.5,159],[1.7,159],[1.44,163],[1.2,151],[0.84,159],[0.71,179],[0.65,167],[0.62,151],[0.52,149],[0.51,171],[0.42,177],[0.31,159],[0.24,175],[0.37,135],[0.53,119],[0.59,103],[0.72,117],[0.95,127],[1.13,139]];
const tsPeriFill = [[0.08,6],[0.176,152],[0.2,228],[0.28,282],[0.27,276],[0.37,316],[0.43,300],[0.47,282],[0.37,230],[0.4,203],[0.46,195],[0.53,209],[0.66,199],[0.63,219],[0.62,308],[0.98,318],[1.48,221],[1.85,308],[2.35,296],[2.6,338],[3.8,336],[4.6,340],[4.9,328],[5.6,322],[7.4,306],[11,306],[10.5,284],[12.7,266],[13,324],[7.4,270],[8.4,252],[3.7,272],[3.9,266],[4.1,260],[4.3,244],[3.9,246],[3.0,205],[3.3,195],[3.9,181],[4.1,177],[3.2,161],[3.3,179],[4.3,139],[4.7,135],[6.6,123],[9.4,179],[10.5,175],[9.8,155],[14,153],[2.0,101],[2.2,135],[1.6,90.6],[2.15,72.5],[1.88,48],[2.5,50],[3.0,34],[3.4,48],[1.8,32],[2.4,14],[3.2,8],[5.8,60],[12,74.5],[13.6,63],[11.1,54],[9.6,72.5],[9.8,167],[1.22,115],[1.13,48],[1.1,62],[0.71,60],[0.62,46],[0.53,113],[0.4,131],[0.2,64],[0.255,20],[0.27,14],[0.48,12],[4.2,95],[4.9,90.6],[6.6,46],[7.4,32],[8.5,18]];
const tsPeriLoFill  = [[0.256,299],[0.21,263],[0.42,259],[0.157,234],[0.55,158],[0.21,115],[0.39,63],[0.51,56],[0.21,29]];
const tsPeriLoOpen  = [[0.31,301],[0.47,228],[0.3,211],[0.53,172],[0.36,153],[0.21,124],[0.23,54],[0.25,56]];
const tsPeriMidFill = [[0.54,346],[0.81,337],[0.59,329],[0.47,317],[1.06,290],[1.15,295],[1.37,275],[1.64,273],[2.65,265],[3.2,352],[0.6,252],[1.42,255],[0.97,194.5],[0.92,184.5],[1.08,172],[1.9,180],[5.8,182],[0.54,136],[0.68,128],[1.06,118],[0.93,107],[8.1,101],[4.0,72.5],[0.256,74.5],[0.49,78.5],[0.42,59],[0.175,7]];
const tsPeriMidOpen = [[0.6,353],[0.68,338],[1.54,303],[3.0,299],[0.63,282],[0.68,274],[1.86,275],[3.05,267],[4.4,228],[4.3,221],[1.86,216],[1.82,185],[5.8,170],[0.76,169.5],[0.77,154],[0.43,143],[0.83,135],[1.8,132],[1.42,90.6],[0.95,24],[1.03,23],[1.1,23],[2.0,8]];

// ---------- marginal histograms (heights in counts) ----------
const altJitHistEdges  = [0.0047,0.0051,0.0055,0.0061,0.0066,0.0072,0.0077,0.0086,0.0094,0.0106,0.0117,0.0128,0.0139,0.015,0.0166,0.0205,0.028,0.056];
const altJitHistCounts = [60,100,93,81,75,65,38,33,28,18,14,6,8,2,5,2,1];
const altSigHistEdges  = [19.5,21.1,21.9,23.7,26.6,31,36.3,39,45.7,57.5];
const altSigHistCounts = [95,80,48,21,8,6,7,3,1];
const altCosHistEdges  = [-1,-0.8,-0.6,-0.4,-0.2,0,0.2,0.4,0.6,0.8,1];
const altCosHistCounts = [82,64,79,56,57,59,86,54,84,64];
const altNodeHistEdges  = [0,20,40,60,80,100,120,140,160,180];
const altNodeHistCounts = [75,100,59,70,60,57,92,66,90];
const altPeriHistEdges  = [0,30,60,90,120,150,180,210,240,270,300,330,360];
const altPeriHistCounts = [72,68,38,53,60,75,69,46,47,47,59,88];

const tsJitHistLog0 = -2.33, tsJitHistDex = 0.0513;
const tsJitHistCounts = [5,4,5,3,4,5,3,4,3,4,5,4,3,5,6,5,7,8,8,10,11,14,24,54,63,82,82,45,45,29,29,15,15,14,9,17,12,10,9,7,5,7,6,5,6,4,5,4,4,3,2,0];
const tsSigHistLog0 = 0.3, tsSigHistDex = 0.1;
const tsSigHistCounts = [5,10,14,19,24,29,37,47,57,66,73,78,82,80,74,66,58,57,52,45,45,39,29,22,16,14];
const tsCosHistEdges  = [-1,-0.8,-0.6,-0.4,-0.2,0,0.2,0.4,0.6,0.8,1];
const tsCosHistCounts = [50,60,66,80,95,92,83,78,66,61];
const tsNodeHistEdges  = [0,15,30,45,60,75,90,105,120,135,150,165,180];
const tsNodeHistCounts = [62,66,70,76,72,80,75,78,74,80,82,90];
const tsPeriHistEdges  = [0,30,60,90,120,150,180,210,240,270,300,330,360];
const tsPeriHistCounts = [55,50,53,57,43,58,61,57,49,50,52,61];

// ---------- layout ----------
const FONT = '"Liberation Sans", Arial, Helvetica, sans-serif';
const ROW_Y = [[29,327],[327,625],[625,923],[923,1221],[1221,1519]];
const COL_X = { hl:[92,201], alt:[201,635], ts:[635,1069], hr:[1069,1167] };
const X_MIN = 0.08, X_MAX = 50;
const HL_MAX = 109, HR_MAX = 98;

function logMinor(min, max) {
  const out = [];
  for (let d = Math.floor(Math.log10(min)); d <= Math.ceil(Math.log10(max)); d++) {
    for (let k = 1; k <= 9; k++) {
      const v = k * Math.pow(10, d);
      if (v >= min * 0.999 && v <= max * 1.001) out.push(+v.toPrecision(6));
    }
  }
  return out;
}
function linMinor(min, max, step) {
  const out = [];
  for (let i = Math.ceil(min / step - 1e-9); i * step <= max + 1e-9; i++) out.push(+(i * step).toFixed(6));
  return out;
}
const isMajor = (v, list) => list.some(m => Math.abs(m - v) < 1e-9 * Math.max(1, Math.abs(m)));

const rowAxes = [
  { type:'logarithmic', min:0.004, max:2,    major:jitTicks,  labels:jitLabels,  minor:logMinor(0.004, 2) },
  { type:'logarithmic', min:1,     max:1000, major:sigTicks,  labels:sigLabels,  minor:logMinor(1, 1000) },
  { type:'linear',      min:-1,    max:1,    major:cosTicks,  labels:cosLabels,  minor:linMinor(-1, 1, 0.1) },
  { type:'linear',      min:0,     max:180,  major:nodeTicks, labels:nodeLabels, minor:linMinor(0, 180, 10) },
  { type:'linear',      min:0,     max:360,  major:periTicks, labels:periLabels, minor:linMinor(0, 360, 10) },
];
const xTickList = logMinor(X_MIN, X_MAX).filter(v => v > X_MIN).map(v => ({ v, major: isMajor(v, xMajor) }));

const fig = document.getElementById('fig');
const frameCfg = new WeakMap();

const GRAY_EDGE = '#7d7d7d';

Chart.register({
  id: 'panelFrame',
  afterDatasetsDraw(chart) {
    const f = frameCfg.get(chart.canvas);
    if (!f) return;
    const ctx = chart.ctx, a = chart.chartArea;
    ctx.save();
    ctx.lineCap = 'butt';

    // inward x ticks on the scatter panels
    if (f.xTicks) {
      const sx = chart.scales.x;
      ctx.strokeStyle = '#3c3c3c';
      ctx.lineWidth = 1.2;
      ctx.beginPath();
      xTickList.forEach(t => {
        const px = Math.round(sx.getPixelForValue(t.v)) + 0.5;
        if (px < a.left + 3 || px > a.right - 1) return;
        const len = t.major ? 13 : 7;
        ctx.moveTo(px, a.top); ctx.lineTo(px, a.top + len);
        ctx.moveTo(px, a.bottom); ctx.lineTo(px, a.bottom - len);
      });
      ctx.stroke();
      if (f.xLabels) {
        ctx.fillStyle = '#111';
        ctx.font = '18px ' + FONT;
        ctx.textAlign = 'center';
        ctx.textBaseline = 'middle';
        xMajor.forEach((v, i) => ctx.fillText(xMajorLabels[i], sx.getPixelForValue(v), a.bottom + 22));
      }
    }

    // y ticks on the histogram panels
    if (f.ySide) {
      const ax = rowAxes[f.row], sy = chart.scales.y;
      ctx.strokeStyle = '#222';
      ctx.lineWidth = 1.2;
      ctx.beginPath();
      ax.minor.forEach(v => {
        const py = Math.round(sy.getPixelForValue(v)) + 0.5;
        if (py < a.top - 1 || py > a.bottom + 1) return;
        const maj = isMajor(v, ax.major);
        if (f.ySide === 'left') {
          const len = maj ? 11 : 6;
          ctx.moveTo(a.left, py); ctx.lineTo(a.left - len, py);
        } else {
          const len = maj ? 12 : 6;
          ctx.moveTo(a.right, py); ctx.lineTo(a.right - len, py);
        }
      });
      ctx.stroke();
      if (f.ySide === 'left') {
        ctx.fillStyle = '#111';
        ctx.font = '18px ' + FONT;
        ctx.textAlign = 'right';
        ctx.textBaseline = 'middle';
        ax.major.forEach((v, i) => {
          let py = sy.getPixelForValue(v);
          py = Math.max(py, a.top + 9);
          if (f.row < 4) py = Math.min(py, a.bottom - 12);
          ctx.fillText(ax.labels[i], a.left - 16, py);
        });
      }
    }

    // panel borders
    (f.edges || []).forEach(e => {
      ctx.strokeStyle = e.color;
      ctx.lineWidth = e.width;
      ctx.beginPath();
      if (e.side === 'top')    { ctx.moveTo(a.left, a.top);    ctx.lineTo(a.right, a.top); }
      if (e.side === 'bottom') { ctx.moveTo(a.left, a.bottom); ctx.lineTo(a.right, a.bottom); }
      if (e.side === 'left')   { ctx.moveTo(a.left, a.top);  ctx.lineTo(a.left, a.bottom); }
      ctx.stroke();
    });

    // legend symbols
    if (f.legend) {
      f.legend.forEach(l => {
        ctx.fillStyle = l.color;
        Chart.helpers.drawPoint(ctx, { pointStyle: l.style, radius: l.r, rotation: 0, borderWidth: 0 }, a.left + l.dx, a.top + l.dy);
      });
    }
    ctx.restore();
  }
});

function addCanvas(x, y, w, h) {
  const c = document.createElement('canvas');
  c.width = w; c.height = h;
  c.style.left = x + 'px'; c.style.top = y + 'px';
  c.style.width = w + 'px'; c.style.height = h + 'px';
  fig.appendChild(c);
  return c;
}

function panel(col, row, datasets, xAxis, frame, padIn) {
  const pad = Object.assign({ left:3, right:3, top:3, bottom:3 }, padIn || {});
  const [x0, x1] = COL_X[col], [y0, y1] = ROW_Y[row];
  const cv = addCanvas(x0 - pad.left, y0 - pad.top, x1 - x0 + pad.left + pad.right, y1 - y0 + pad.top + pad.bottom);
  frameCfg.set(cv, frame);
  const ax = rowAxes[row];
  return new Chart(cv, {
    type: 'scatter',
    data: { datasets },
    options: {
      responsive: false, animation: false, devicePixelRatio: 1, events: [],
      layout: { padding: pad },
      plugins: { legend: { display: false }, tooltip: { enabled: false } },
      scales: {
        x: Object.assign({ display: false }, xAxis),
        y: { display: false, type: ax.type, min: ax.min, max: ax.max },
      },
    },
  });
}

// ---------- marker styles ----------
const ORANGE_LINE = 'rgba(240,150,45,0.64)';
const ORANGE_FILL = 'rgba(243,166,72,0.55)';
const NAVY = '#0b1c47';
const BLUE = '#5b7cf4';
const STYLE = {
  open:    { pointStyle:'rectRot',  pointRadius:5.6, pointBackgroundColor:'rgba(0,0,0,0)', pointBorderColor:ORANGE_LINE, pointBorderWidth:1.2 },
  fill:    { pointStyle:'rectRot',  pointRadius:6.2, pointBackgroundColor:ORANGE_FILL, pointBorderWidth:0 },
  dark:    { pointStyle:'rectRot',  pointRadius:6.2, pointBackgroundColor:'rgba(146,104,58,0.85)', pointBorderWidth:0 },
  loFill:  { pointStyle:'circle',   pointRadius:4.8, pointBackgroundColor:NAVY, pointBorderWidth:0 },
  loOpen:  { pointStyle:'circle',   pointRadius:4.4, pointBackgroundColor:'rgba(0,0,0,0)', pointBorderColor:NAVY, pointBorderWidth:1.2 },
  midFill: { pointStyle:'triangle', pointRadius:6.2, pointBackgroundColor:BLUE, pointBorderWidth:0 },
  midOpen: { pointStyle:'triangle', pointRadius:5.8, pointBackgroundColor:'rgba(0,0,0,0)', pointBorderColor:BLUE, pointBorderWidth:1.2 },
};
const pts = arr => arr.map(([x, y]) => ({ x, y }));
const marks = (arr, style) => Object.assign({ data: pts(arr), clip: 0, pointHoverRadius: 0 }, STYLE[style]);
const refLine = (data, dash, color, width) => ({
  data, showLine: true, pointRadius: 0, borderColor: color, borderWidth: width, borderDash: dash, clip: 0,
});

function histOutline(edges, counts) {
  const p = [{ x: 0, y: edges[0] }];
  counts.forEach((c, i) => { p.push({ x: c, y: edges[i] }, { x: c, y: edges[i + 1] }); });
  p.push({ x: 0, y: edges[edges.length - 1] });
  return p;
}
const logEdges = (log0, dex, n) => Array.from({ length: n + 1 }, (_, k) => Math.pow(10, log0 + k * dex));
const histSet = (edges, counts) => ({
  data: histOutline(edges, counts), showLine: true, fill: 'shape', tension: 0,
  backgroundColor: '#e9e9e9', borderColor: '#9b9b9b', borderWidth: 1.3, pointRadius: 0, clip: 0,
});

const xScatter = { type: 'logarithmic', min: X_MIN, max: X_MAX };

const altRows = [
  [marks(altJitOpen.concat(altJitCore), 'open'),   marks(altJitVal, 'dark')],
  [marks(altSigOpen.concat(altSigCore), 'open'),   marks(altSigVal, 'dark')],
  [marks(altCosOpen.concat(altCosCore), 'open'),   marks(altCosVal, 'dark')],
  [marks(altNodeOpen.concat(altNodeCore), 'open'), marks(altNodeVal, 'dark')],
  [marks(altPeriOpen.concat(altPeriCore), 'open'), marks(altPeriVal, 'dark')],
];
const tsRows = [
  [tsJitOpen, tsJitFill, tsJitMidOpen, tsJitMidFill, tsJitLoOpen, tsJitLoFill],
  [tsSigOpen, tsSigFill, tsSigMidOpen, tsSigMidFill, tsSigLoOpen, tsSigLoFill],
  [tsCosOpen, tsCosFill, tsCosMidOpen, tsCosMidFill, tsCosLoOpen, tsCosLoFill],
  [tsNodeOpen, tsNodeFill, tsNodeMidOpen, tsNodeMidFill, tsNodeLoOpen, tsNodeLoFill],
  [tsPeriOpen, tsPeriFill, tsPeriMidOpen, tsPeriMidFill, tsPeriLoOpen, tsPeriLoFill],
].map(r => r.map((arr, i) => marks(arr, ['open','fill','midOpen','midFill','loOpen','loFill'][i])));

const hlSets = [
  histSet(altJitHistEdges, altJitHistCounts),
  histSet(altSigHistEdges, altSigHistCounts),
  histSet(altCosHistEdges, altCosHistCounts),
  histSet(altNodeHistEdges, altNodeHistCounts),
  histSet(altPeriHistEdges, altPeriHistCounts),
];
const hrSets = [
  histSet(logEdges(tsJitHistLog0, tsJitHistDex, tsJitHistCounts.length), tsJitHistCounts),
  histSet(logEdges(tsSigHistLog0, tsSigHistDex, tsSigHistCounts.length), tsSigHistCounts),
  histSet(tsCosHistEdges, tsCosHistCounts),
  histSet(tsNodeHistEdges, tsNodeHistCounts),
  histSet(tsPeriHistEdges, tsPeriHistCounts),
];

const legendMarks = [
  { style:'circle',   r:4.8, color:NAVY,        dx:273, dy:48 },
  { style:'triangle', r:6.2, color:BLUE,        dx:273, dy:69 },
  { style:'rectRot',  r:6.2, color:ORANGE_FILL, dx:273, dy:88 },
];

for (let r = 0; r < 5; r++) {
  const topColS = r === 0 ? GRAY_EDGE : '#000';
  const botColS = r === 4 ? GRAY_EDGE : '#000';
  const wTop = r === 0 ? 2 : 2.2, wBot = r === 4 ? 2 : 2.2;

  // left histogram
  panel('hl', r, [hlSets[r]], { type:'linear', min:0, max:HL_MAX },
    { row:r, ySide:'left', edges:[
      { side:'top', color:GRAY_EDGE, width:2 },
      { side:'bottom', color:GRAY_EDGE, width:2 },
      { side:'left', color:'#111', width:1.6 } ] },
    { left:94, top:14, bottom:14 });

  // OrbitalAlternative
  const altSets = altRows[r].slice();
  if (r === 0) {
    altSets.unshift(refLine(refLineX.map(x => ({ x, y: x })), [2.5, 5], '#222', 1.2));
    altSets.unshift(refLine(refLineX.map(x => ({ x, y: x / 2 })), [9, 6], '#222', 1.2));
  }
  if (r === 2) altSets.unshift(refLine(refLineX.map(x => ({ x, y: edgeOnCos })), [1.2, 3.2], '#8e8e8e', 1.2));
  panel('alt', r, altSets, xScatter,
    { row:r, xTicks:true, xLabels:r === 4, legend: r === 0 ? legendMarks : null, edges:[
      { side:'top', color:topColS, width:wTop },
      { side:'bottom', color:botColS, width:wBot },
      { side:'left', color:'#000', width:2.6 } ] },
    r === 4 ? { bottom:40 } : null);

  // OrbitalTargetedSearch
  const tsSets = tsRows[r].slice();
  if (r === 0) {
    tsSets.unshift(refLine(refLineX.map(x => ({ x, y: x })), [2.5, 5], '#222', 1.2));
    tsSets.unshift(refLine(refLineX.map(x => ({ x, y: x / 2 })), [9, 6], '#222', 1.2));
  }
  if (r === 2) tsSets.unshift(refLine(refLineX.map(x => ({ x, y: edgeOnCos })), [1.2, 3.2], '#8e8e8e', 1.2));
  panel('ts', r, tsSets, xScatter,
    { row:r, xTicks:true, xLabels:r === 4, edges:[
      { side:'top', color:topColS, width:wTop },
      { side:'bottom', color:botColS, width:wBot },
      { side:'left', color:'#000', width:1.8 } ] },
    r === 4 ? { bottom:40 } : null);

  // right histogram
  panel('hr', r, [hrSets[r]], { type:'linear', min:0, max:HR_MAX, reverse:true },
    { row:r, ySide:'right', edges:[
      { side:'top', color:GRAY_EDGE, width:2 },
      { side:'bottom', color:GRAY_EDGE, width:2 },
      { side:'left', color:'#000', width:1.6 } ] },
    { right:0 });
}

// ---------- text ----------
function text(html, x, y, o) {
  o = o || {};
  const d = document.createElement('div');
  d.className = 't';
  d.innerHTML = html;
  d.style.left = x + 'px';
  d.style.top = y + 'px';
  d.style.fontSize = (o.size || 17) + 'px';
  if (o.color) d.style.color = o.color;
  const tx = o.align === 'right' ? '-100%' : o.align === 'left' ? '0' : '-50%';
  d.style.transform = `translate(${tx},-50%)` + (o.rot ? ` rotate(${o.rot}deg)` : '');
  fig.appendChild(d);
}

text('629 OrbitalAlternative* (10 Validated)', 199, 14, { align:'left' });
text('533 OrbitalTargetedSearch* (188 Validated)', 704, 14, { align:'left' });

text('jitter term [mas]', 20, 177, { rot:-90 });
text('signif. semi-major axis (a<sub>1</sub>/\u03c3<sub>a<sub>1</sub></sub>)', 20, 469, { rot:-90 });
text('cos( inclination )', 20, 772, { rot:-90 });
text('lon. ascending node (\u03a9)&nbsp; [deg]', 20, 1071, { rot:-90 });
text('periastron arg. (\u03c9)&nbsp; [deg]', 20, 1372, { rot:-90 });
text('semi-major axis a<sub>1</sub> [mas]', 619, 1568, {});

text('validated: (dark)filled', 618, 57, { align:'right', size:16 });
text('M\u0303<sub>c</sub> &lt; &nbsp; 20 M<sub>J</sub>', 618, 77, { align:'right', size:16 });
text('20 \u2264 M\u0303<sub>c</sub> \u2264 120 M<sub>J</sub>', 618, 97, { align:'right', size:16 });
text('M\u0303<sub>c</sub> &gt; 120 M<sub>J</sub>', 618, 117, { align:'right', size:16 });

text('a<sub>1</sub>', 241, 136, { rot:-35, size:17 });
text('a<sub>1</sub>/2', 253, 163, { rot:-35, size:17 });

text('edge-on', 627, 765, { align:'right', size:16, color:'#999' });
</script>
</body>
</html>
